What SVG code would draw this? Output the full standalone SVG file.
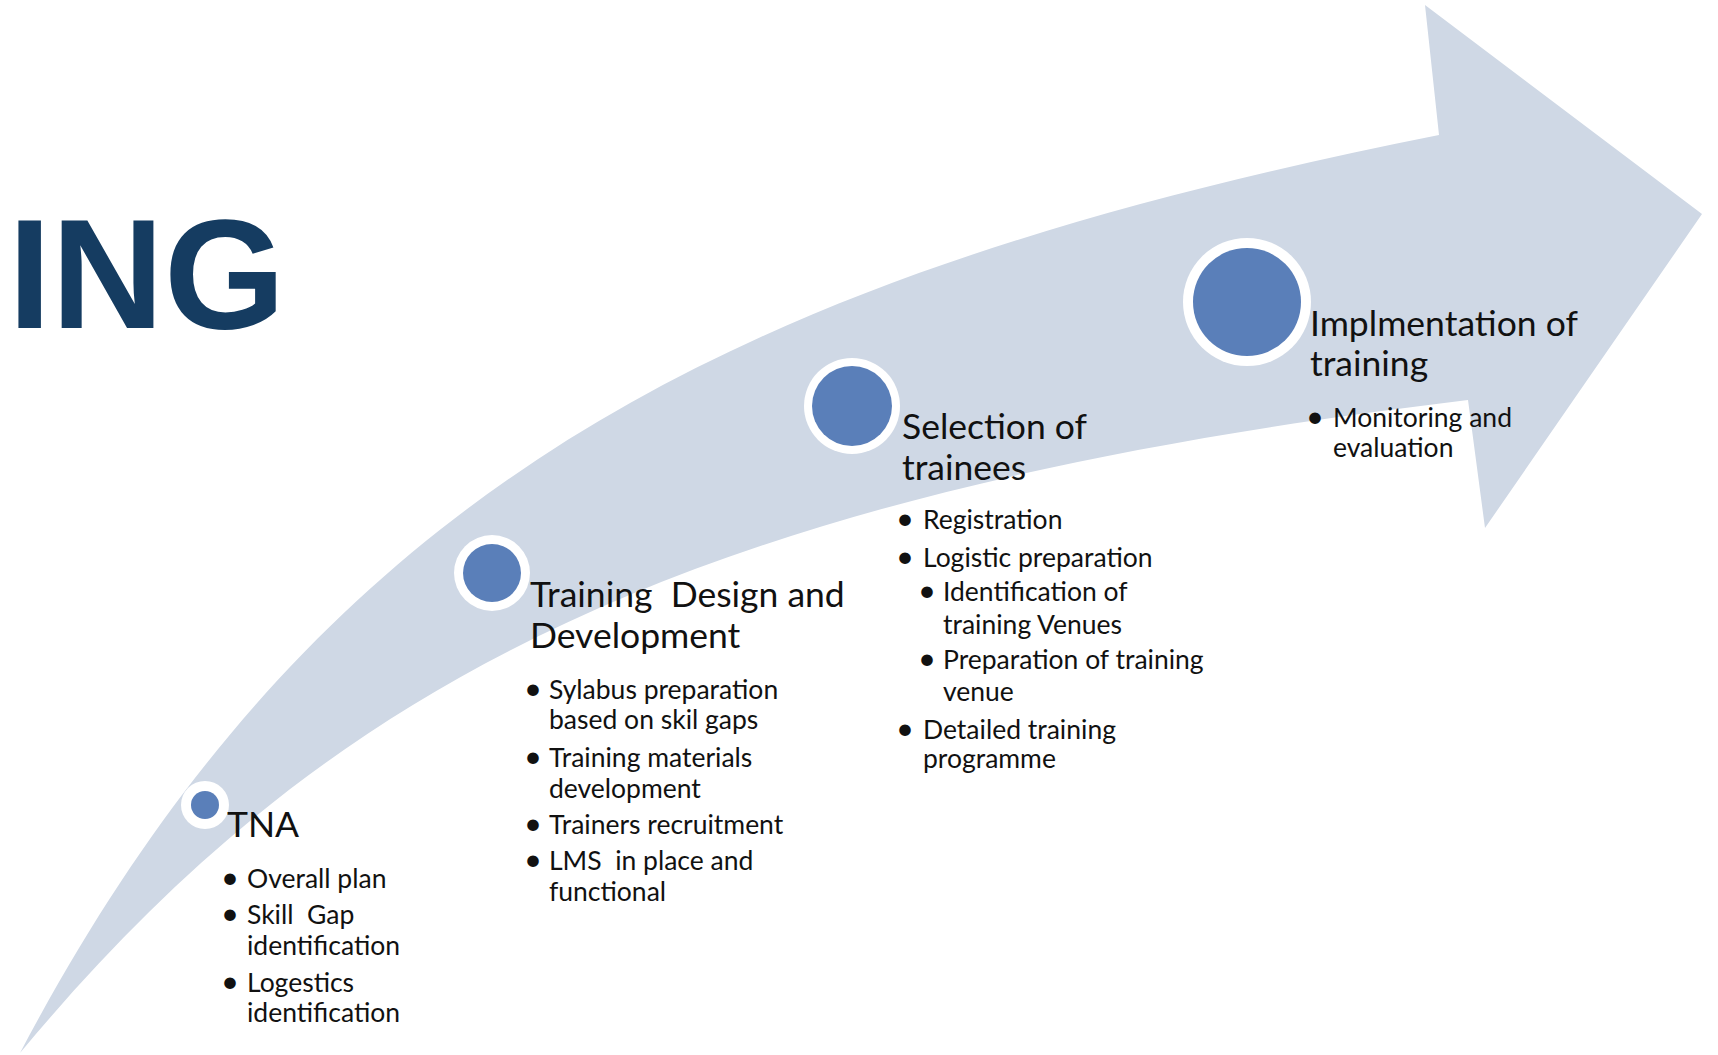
<svg xmlns="http://www.w3.org/2000/svg" width="1718" height="1055" viewBox="0 0 1718 1055">
  <style>
    .bg { fill: #FFFFFF; }
    .arrow { fill: #CFD8E5; }
    .ring { fill: #FFFFFF; }
    .dot { fill: #5A7FB9; }
    .title { font-family: Lato, "Open Sans", "Liberation Sans", sans-serif; font-size: 35.5px; fill: #111111; }
    .item { font-family: Lato, "Open Sans", "Liberation Sans", sans-serif; font-size: 26.5px; fill: #111111; }
    .bul { font-family: Lato, "Open Sans", "Liberation Sans", sans-serif; font-size: 31px; fill: #111111; text-anchor: middle; }
    .brand { font-family: "Liberation Sans", Arial, sans-serif; font-weight: bold; font-size: 156px; fill: #153C61; }
  </style>

  <rect class="bg" x="0" y="0" width="1718" height="1055"/>

  <!-- partial heading word at the left edge -->
  <text class="brand" x="8" y="328">ING</text>

  <!-- sweeping upward arrow behind the stages -->
  <g id="connectors">
    <path id="arrow" class="arrow" d="M 20,1053 C 320,483 739,275 1439,135 L 1425,5 L 1702,214 L 1485,528 L 1468,400 C 668,496 320,693 20,1053 Z"/>
  </g>

  <!-- stage 1 -->
  <g id="node-tna">
    <circle class="ring" cx="205" cy="805" r="24"/>
    <circle class="dot" cx="205" cy="805" r="14"/>
    <text class="title" x="227" y="837">TNA</text>
    <text class="bul" x="230" y="888">•</text>
    <text class="item" x="247" y="888">Overall plan</text>
    <text class="bul" x="230" y="924">•</text>
    <text class="item" x="247" y="924" xml:space="preserve">Skill  Gap</text>
    <text class="item" x="247" y="955">identification</text>
    <text class="bul" x="230" y="992">•</text>
    <text class="item" x="247" y="992">Logestics</text>
    <text class="item" x="247" y="1022">identification</text>
  </g>

  <!-- stage 2 -->
  <g id="node-design">
    <circle class="ring" cx="492" cy="573" r="38"/>
    <circle class="dot" cx="492" cy="573" r="29"/>
    <text class="title" x="530" y="607" xml:space="preserve">Training  Design and</text>
    <text class="title" x="530" y="648">Development</text>
    <text class="bul" x="533" y="699">•</text>
    <text class="item" x="549" y="699">Sylabus preparation</text>
    <text class="item" x="549" y="729">based on skil gaps</text>
    <text class="bul" x="533" y="767">•</text>
    <text class="item" x="549" y="767">Training materials</text>
    <text class="item" x="549" y="798">development</text>
    <text class="bul" x="533" y="834">•</text>
    <text class="item" x="549" y="834">Trainers recruitment</text>
    <text class="bul" x="533" y="870">•</text>
    <text class="item" x="549" y="870" xml:space="preserve">LMS  in place and</text>
    <text class="item" x="549" y="901">functional</text>
  </g>

  <!-- stage 3 -->
  <g id="node-selection">
    <circle class="ring" cx="852" cy="406" r="48"/>
    <circle class="dot" cx="852" cy="406" r="40"/>
    <text class="title" x="902" y="439">Selection of</text>
    <text class="title" x="902" y="480">trainees</text>
    <text class="bul" x="905" y="529">•</text>
    <text class="item" x="923" y="529">Registration</text>
    <text class="bul" x="905" y="567">•</text>
    <text class="item" x="923" y="567">Logistic preparation</text>
    <text class="bul" x="927" y="601">•</text>
    <text class="item" x="943" y="601">Identification of</text>
    <text class="item" x="943" y="634">training Venues</text>
    <text class="bul" x="927" y="669">•</text>
    <text class="item" x="943" y="669">Preparation of training</text>
    <text class="item" x="943" y="701">venue</text>
    <text class="bul" x="905" y="739">•</text>
    <text class="item" x="923" y="739">Detailed training</text>
    <text class="item" x="923" y="768">programme</text>
  </g>

  <!-- stage 4 -->
  <g id="node-implementation">
    <circle class="ring" cx="1247" cy="302" r="64"/>
    <circle class="dot" cx="1247" cy="302" r="54"/>
    <text class="title" x="1310" y="336">Implmentation of</text>
    <text class="title" x="1310" y="376">training</text>
    <text class="bul" x="1315" y="427">•</text>
    <text class="item" x="1333" y="427">Monitoring and</text>
    <text class="item" x="1333" y="457">evaluation</text>
  </g>
</svg>
